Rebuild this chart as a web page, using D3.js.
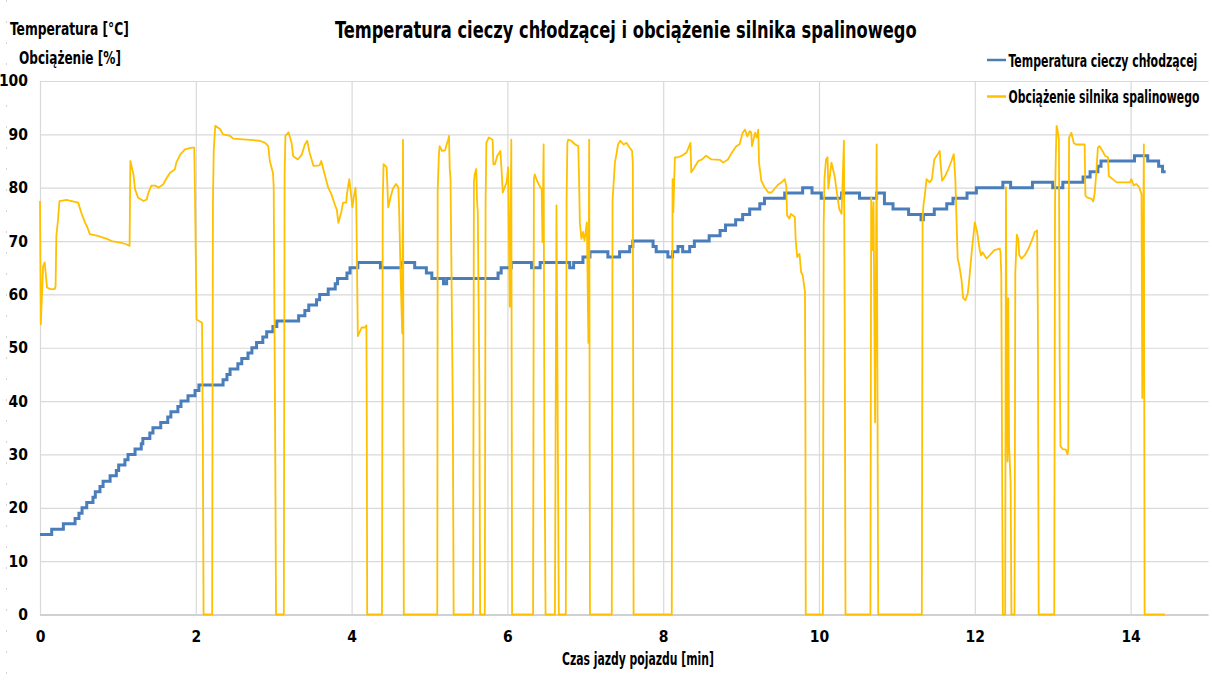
<!DOCTYPE html>
<html>
<head>
<meta charset="utf-8">
<script src="https://cdn.jsdelivr.net/npm/d3@7"></script>
<style>
  html, body { margin: 0; padding: 0; background: #ffffff; }
  svg { display: block; }
  text { font-family: "Liberation Sans Narrow", "Arial Narrow", "DejaVu Sans Condensed", "Liberation Sans", sans-serif; fill: #000; }
</style>
</head>
<body>
<svg id="chart" width="1212" height="681"></svg>
<script>
// ---------- DATA ----------
const chartTitle = "Temperatura cieczy chłodzącej i obciążenie silnika spalinowego";
const yTitleLines = ["Temperatura [°C]", "Obciążenie [%]"];
const xTitle = "Czas jazdy pojazdu [min]";
const seriesNames = ["Temperatura cieczy chłodzącej", "Obciążenie silnika spalinowego"];
const xTicks = [0, 2, 4, 6, 8, 10, 12, 14];
const yTicks = [0, 10, 20, 30, 40, 50, 60, 70, 80, 90, 100];

// Coolant temperature: step change times [min] and values [°C]
const tempTime = [0, 0.15, 0.30, 0.45, 0.50, 0.54, 0.60, 0.68, 0.71, 0.77, 0.81, 0.90, 0.98, 1.01, 1.09, 1.13, 1.22, 1.30, 1.32, 1.41,
  1.45, 1.55, 1.64, 1.68, 1.77, 1.81, 1.90, 1.99, 2.04, 2.35, 2.40, 2.44, 2.54, 2.59, 2.67, 2.72, 2.78, 2.86, 2.91, 2.99,
  3.04, 3.32, 3.40, 3.45, 3.55, 3.59, 3.70, 3.79, 3.82, 3.94, 3.98, 4.08, 4.37, 4.64, 4.81, 4.96, 5.03, 5.18, 5.22, 5.88,
  5.92, 6.05, 6.31, 6.42, 6.80, 6.85, 6.97, 7.06, 7.29, 7.44, 7.57, 7.61, 7.87, 7.91, 8.06, 8.12, 8.19, 8.25, 8.34, 8.40,
  8.59, 8.73, 8.80, 8.93, 9.02, 9.11, 9.24, 9.30, 9.56, 9.79, 9.91, 10.03, 10.29, 10.52, 10.74, 10.84, 10.95, 11.15, 11.31, 11.34,
  11.48, 11.64, 11.72, 11.90, 12.02, 12.36, 12.46, 12.74, 13.00, 13.13, 13.39, 13.48, 13.58, 13.62, 14.05, 14.22, 14.36, 14.41, 14.45];
const tempValue = [15, 16, 17, 18, 19, 20, 21, 22, 23, 24, 25, 26, 27, 28, 29, 30, 31, 32, 33, 34,
  35, 36, 37, 38, 39, 40, 41, 42, 43, 44, 45, 46, 47, 48, 49, 50, 51, 52, 53, 54,
  55, 56, 57, 58, 59, 60, 61, 62, 63, 64, 65, 66, 65, 66, 65, 64, 63, 62, 63, 64,
  65, 66, 65, 66, 65, 66, 67, 68, 67, 68, 69, 70, 69, 68, 67, 68, 69, 68, 69, 70,
  71, 72, 73, 74, 75, 76, 77, 78, 79, 80, 79, 78, 79, 78, 79, 77, 76, 75, 74, 75,
  76, 77, 78, 79, 80, 81, 80, 81, 80, 81, 82, 83, 84, 85, 86, 85, 84, 83, 83];

// Engine load: sample times [min] and values [%]
const loadTime = [0.00, 0.01, 0.04, 0.06, 0.09, 0.13, 0.19, 0.20, 0.21, 0.23, 0.25, 0.34, 0.49, 0.53, 0.58, 0.61, 0.64, 0.73, 0.86, 0.92,
  1.03, 1.11, 1.15, 1.16, 1.20, 1.22, 1.26, 1.33, 1.37, 1.39, 1.43, 1.48, 1.52, 1.58, 1.63, 1.67, 1.73, 1.75, 1.80, 1.86,
  1.95, 1.98, 1.99, 2.00, 2.01, 2.08, 2.09, 2.10, 2.21, 2.22, 2.23, 2.25, 2.31, 2.35, 2.44, 2.48, 2.65, 2.82, 2.89, 2.93,
  2.95, 2.99, 3.00, 3.02, 3.03, 3.13, 3.14, 3.15, 3.19, 3.23, 3.25, 3.31, 3.36, 3.40, 3.43, 3.46, 3.51, 3.59, 3.61, 3.66,
  3.70, 3.74, 3.79, 3.81, 3.83, 3.87, 3.89, 3.93, 3.94, 3.97, 3.99, 4.01, 4.03, 4.05, 4.06, 4.08, 4.13, 4.17, 4.19, 4.195,
  4.20, 4.39, 4.40, 4.41, 4.45, 4.47, 4.50, 4.53, 4.57, 4.60, 4.61, 4.63, 4.65, 4.66, 4.67, 5.10, 5.105, 5.12, 5.13, 5.16,
  5.20, 5.22, 5.24, 5.25, 5.26, 5.27, 5.29, 5.30, 5.31, 5.56, 5.57, 5.58, 5.60, 5.61, 5.62, 5.64, 5.65, 5.71, 5.72, 5.73,
  5.76, 5.81, 5.82, 5.84, 5.87, 5.91, 5.93, 5.94, 5.99, 6.01, 6.03, 6.05, 6.06, 6.33, 6.34, 6.35, 6.38, 6.41, 6.44, 6.45,
  6.465, 6.475, 6.49, 6.61, 6.63, 6.645, 6.66, 6.75, 6.76, 6.77, 6.78, 6.82, 6.87, 6.91, 6.92, 6.93, 6.95, 6.97, 6.99, 7.02,
  7.04, 7.05, 7.06, 7.34, 7.35, 7.38, 7.40, 7.42, 7.45, 7.49, 7.53, 7.57, 7.60, 7.61, 7.615, 7.62, 8.11, 8.12, 8.13, 8.15,
  8.19, 8.24, 8.30, 8.35, 8.36, 8.40, 8.45, 8.50, 8.55, 8.62, 8.73, 8.77, 8.83, 8.87, 8.94, 8.98, 9.02, 9.05, 9.08, 9.11,
  9.13, 9.14, 9.18, 9.20, 9.22, 9.23, 9.26, 9.30, 9.35, 9.39, 9.43, 9.47, 9.52, 9.56, 9.58, 9.59, 9.62, 9.64, 9.69, 9.70,
  9.72, 9.75, 9.77, 9.79, 9.82, 9.825, 9.83, 10.05, 10.06, 10.07, 10.08, 10.09, 10.11, 10.12, 10.16, 10.20, 10.23, 10.26, 10.29, 10.32,
  10.33, 10.34, 10.66, 10.67, 10.69, 10.70, 10.72, 10.74, 10.76, 11.32, 11.33, 11.34, 11.36, 11.38, 11.42, 11.45, 11.48, 11.55, 11.56, 11.58,
  11.61, 11.66, 11.70, 11.73, 11.74, 11.75, 11.78, 11.80, 11.83, 11.85, 11.88, 11.91, 11.93, 11.96, 12.00, 12.03, 12.06, 12.08, 12.10, 12.15,
  12.19, 12.25, 12.32, 12.33, 12.34, 12.35, 12.36, 12.39, 12.40, 12.41, 12.42, 12.43, 12.44, 12.46, 12.47, 12.51, 12.52, 12.54, 12.56, 12.57,
  12.60, 12.64, 12.69, 12.74, 12.77, 12.80, 12.81, 12.82, 13.02, 13.03, 13.04, 13.05, 13.06, 13.08, 13.09, 13.10, 13.13, 13.17, 13.19, 13.20,
  13.21, 13.24, 13.27, 13.30, 13.41, 13.42, 13.44, 13.50, 13.52, 13.54, 13.56, 13.58, 13.60, 13.64, 13.67, 13.71, 13.72, 13.77, 13.82, 13.99,
  14.01, 14.04, 14.07, 14.11, 14.14, 14.15, 14.17, 14.18, 14.44];
const loadValue = [77.5, 54.4, 65.3, 66.0, 61.3, 61.0, 61.0, 61.6, 71.0, 73.8, 77.5, 77.7, 77.2, 75.3, 73.4, 72.5, 71.3, 71.0, 70.4, 70.0,
  69.7, 69.4, 69.1, 85.0, 82.5, 79.7, 78.1, 77.5, 77.8, 79.0, 80.4, 80.4, 80.0, 80.6, 81.9, 82.8, 83.4, 84.7, 86.2, 87.2,
  87.5, 87.5, 78.4, 66.9, 55.3, 54.7, 33.7, 0, 0, 77.2, 86.9, 91.6, 91.0, 90.0, 89.7, 89.2, 89.0, 88.8, 88.4, 87.8,
  85.0, 82.8, 80.3, 30.5, 0, 0, 82.2, 89.7, 90.4, 88.4, 85.9, 85.3, 86.2, 88.1, 88.8, 86.6, 84.1, 84.2, 85.0, 82.2,
  80.0, 78.8, 76.6, 75.9, 73.4, 75.6, 77.2, 77.2, 78.8, 81.6, 79.1, 76.3, 78.4, 80.0, 77.2, 52.2, 53.8, 53.8, 54.2, 37.2,
  0, 0, 77.6, 84.4, 83.8, 76.3, 78.2, 79.8, 80.7, 80.1, 76.0, 63.0, 52.7, 89.0, 0, 0, 79.4, 86.0, 87.8, 86.9,
  87.0, 88.1, 89.0, 89.7, 83.5, 81.6, 53.0, 35.9, 0, 0, 81.0, 82.5, 83.5, 77.6, 75.4, 42.7, 0, 0, 77.0, 88.4,
  89.4, 89.0, 84.4, 84.4, 86.0, 86.9, 82.2, 79.1, 81.0, 83.8, 57.7, 89.0, 0, 0, 81.6, 82.5, 81.3, 80.4, 79.7, 69.8,
  88.1, 34.9, 0, 0, 76.7, 39.0, 0, 0, 77.9, 88.4, 89.0, 88.8, 88.1, 87.8, 81.6, 73.5, 70.4, 71.7, 70.1, 73.5,
  50.9, 89.0, 0, 0, 77.6, 84.7, 86.3, 88.1, 88.8, 88.1, 88.4, 87.5, 86.9, 84.7, 42.4, 0, 0, 81.6, 75.4, 85.7,
  85.7, 86.0, 86.6, 88.4, 82.9, 83.8, 85.0, 85.3, 86.0, 85.3, 85.2, 84.7, 85.3, 86.3, 87.8, 88.1, 90.3, 90.9, 89.6, 90.6,
  90.3, 87.8, 90.3, 89.4, 90.9, 84.7, 81.3, 80.1, 79.1, 79.1, 79.8, 80.5, 81.0, 81.6, 80.3, 74.8, 74.2, 75.1, 74.5, 70.4,
  67.0, 67.6, 64.2, 63.6, 60.5, 39.3, 0, 0, 72.9, 81.6, 83.5, 85.3, 85.7, 79.8, 84.7, 82.2, 79.1, 76.0, 75.1, 88.8,
  56.1, 0, 0, 78.2, 68.3, 77.3, 36.0, 88.1, 0, 0, 74.2, 76.6, 78.8, 81.6, 81.0, 81.6, 85.3, 86.9, 84.7, 81.3,
  81.9, 83.5, 85.0, 86.3, 84.1, 81.6, 66.7, 65.5, 62.7, 59.3, 58.9, 60.2, 63.0, 67.9, 73.5, 71.7, 68.6, 67.3, 67.9, 66.7,
  67.3, 68.3, 68.6, 67.9, 63.6, 29.3, 0, 0, 80.1, 42.0, 28.7, 59.3, 31.8, 24.7, 0, 0, 64.2, 71.2, 70.2, 67.4,
  66.7, 67.3, 68.6, 70.4, 71.7, 72.0, 54.9, 0, 0, 77.6, 86.0, 91.6, 91.0, 89.0, 47.5, 31.5, 31.0, 30.9, 30.0, 31.0,
  89.4, 90.3, 88.4, 88.1, 88.1, 78.5, 78.2, 77.9, 77.4, 79.1, 82.9, 87.5, 87.8, 86.9, 86.0, 85.7, 82.2, 81.6, 81.0, 81.0,
  81.6, 80.4, 80.7, 80.1, 78.8, 40.6, 88.1, 0, 0];

const seriesColors = ["#4a7ebb", "#ffc000"];

// ---------- CHART ----------
const svg = d3.select("#chart");
const W = 1212, H = 681;
const x = d3.scaleLinear().domain([0, 15]).range([40, 1208.5]);
const y = d3.scaleLinear().domain([0, 100]).range([614.5, 81]);
const fontStack = '"Liberation Sans Narrow", "Arial Narrow", "DejaVu Sans Condensed", sans-serif';

// text placed at (px, py) and horizontally scaled to a target width
function fittedText(str, px, py, size, width) {
  const t = svg.append("text").attr("x", 0).attr("y", 0)
    .attr("font-size", size).attr("font-weight", "bold").text(str);
  const natural = t.node().getComputedTextLength();
  const sx = natural > 0 ? Math.min(1.25, width / natural) : 1;
  t.attr("transform", `translate(${px},${py}) scale(${sx},1)`);
  return t;
}

// faint chart-area left edge
svg.append("line").attr("x1", 6.5).attr("x2", 6.5).attr("y1", 0).attr("y2", H)
  .attr("stroke", "#d4d4d4").attr("stroke-width", 1).attr("stroke-dasharray", "2,19");

// horizontal gridlines
const gy = svg.append("g").attr("transform", `translate(${x(0)},0)`)
  .call(d3.axisLeft(y).tickValues(yTicks).tickSize(-(x(15) - x(0))).tickFormat(""));
gy.select(".domain").remove();
gy.selectAll(".tick line").attr("stroke", d => d === 0 ? "#d0d0d0" : "#d9d9d9")
  .attr("stroke-width", d => d === 0 ? 2 : 1.2);

// vertical gridlines
const gx = svg.append("g").attr("transform", `translate(0,${y(0)})`)
  .call(d3.axisBottom(x).tickValues(xTicks).tickSize(-(y(0) - y(100))).tickFormat(""));
gx.select(".domain").remove();
gx.selectAll(".tick line").attr("stroke", "#d9d9d9").attr("stroke-width", 1.2);

// y tick labels
const yl = svg.append("g").attr("transform", `translate(${x(0)},0)`)
  .call(d3.axisLeft(y).tickValues(yTicks).tickSize(0).tickPadding(12).tickFormat(d3.format("d")));
yl.select(".domain").remove();
yl.selectAll("text").attr("font-size", 15.5).attr("font-weight", "bold")
  .style("font-family", fontStack).attr("fill", "#000");

// x tick labels
const xl = svg.append("g").attr("transform", `translate(0,${y(0)})`)
  .call(d3.axisBottom(x).tickValues(xTicks).tickSize(0).tickFormat(d3.format("d")));
xl.select(".domain").remove();
xl.selectAll("text").attr("y", 22).attr("dy", "0.35em").attr("font-size", 15.5).attr("font-weight", "bold")
  .style("font-family", fontStack).attr("fill", "#000");

// temperature step line
const tempData = tempTime.map((t, i) => [t, tempValue[i]]);
svg.append("path").datum(tempData)
  .attr("fill", "none").attr("stroke", seriesColors[0]).attr("stroke-width", 3)
  .attr("d", d3.line().x(d => x(d[0])).y(d => y(d[1])).curve(d3.curveStepAfter));

// load line
const loadData = loadTime.map((t, i) => [t, loadValue[i]]);
svg.append("path").datum(loadData)
  .attr("fill", "none").attr("stroke", seriesColors[1]).attr("stroke-width", 1.8)
  .attr("stroke-linejoin", "round")
  .attr("d", d3.line().x(d => x(d[0])).y(d => y(d[1])));

// title
fittedText(chartTitle, 335, 38, 22.5, 582);

// y axis titles
fittedText(yTitleLines[0], 10, 35, 18, 119);
fittedText(yTitleLines[1], 19, 64, 18, 102);

// x axis title
fittedText(xTitle, 562, 665, 18, 152);

// legend
const legendY = [60, 96.5];
const legendLen = [189, 191];
seriesNames.forEach((name, i) => {
  svg.append("line").attr("x1", 987).attr("x2", 1006).attr("y1", legendY[i]).attr("y2", legendY[i])
    .attr("stroke", seriesColors[i]).attr("stroke-width", 2.5);
  fittedText(name, 1008.5, legendY[i] + 6.5, 17.5, legendLen[i]);
});
</script>
</body>
</html>
